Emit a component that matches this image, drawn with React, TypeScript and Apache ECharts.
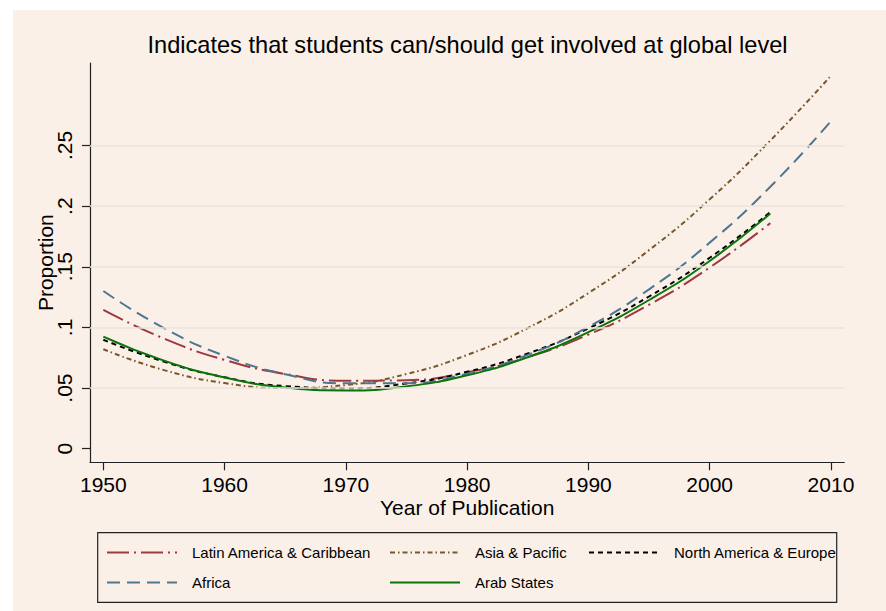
import React, { useEffect, useRef } from "react";
import * as echarts from "echarts";

const yearsLong = [1950, 1955, 1960, 1965, 1970, 1975, 1980, 1985, 1990, 1995, 2000, 2005, 2010];
const yearsShort = [1950, 1955, 1960, 1965, 1970, 1975, 1980, 1985, 1990, 1995, 2000, 2005];

const latinAmerica = [0.1144, 0.0908, 0.0732, 0.0616, 0.056, 0.0565, 0.063, 0.0756, 0.0941, 0.1187, 0.1494, 0.186];
const asiaPacific = [0.082, 0.0648, 0.0541, 0.05, 0.0525, 0.0616, 0.0773, 0.0995, 0.1283, 0.1637, 0.2056, 0.2541, 0.3075];
const northAmericaEurope = [0.0898, 0.0718, 0.0589, 0.0516, 0.0499, 0.0538, 0.0634, 0.0785, 0.0992, 0.1255, 0.1574, 0.195];
const africa = [0.13, 0.0994, 0.0766, 0.0614, 0.0539, 0.054, 0.0619, 0.0774, 0.1005, 0.1314, 0.1699, 0.216, 0.27];
const arabStates = [0.0924, 0.0726, 0.0587, 0.0505, 0.048, 0.0514, 0.0605, 0.0754, 0.0961, 0.1226, 0.1548, 0.194];

const xTicks = [1950, 1960, 1970, 1980, 1990, 2000, 2010];
const yTicks = [0, 0.05, 0.1, 0.15, 0.2, 0.25];
const yGridTicks = [0.05, 0.1, 0.15, 0.2, 0.25];

const FONT = "'Liberation Sans', Arial, Helvetica, sans-serif";

const pair = (xs: number[], ys: number[]) => ys.map((v, i) => [xs[i], v]);

export default function App() {
  const ref = useRef<HTMLDivElement>(null);

  useEffect(() => {
    if (!ref.current) return;
    const chart = echarts.init(ref.current, undefined, { renderer: "svg" });

    const seriesDefs = [
      { name: "Latin America & Caribbean", xs: yearsShort, ys: latinAmerica, color: "#A0383D", dash: [22, 5, 2, 5] },
      { name: "Asia & Pacific", xs: yearsLong, ys: asiaPacific, color: "#76592A", dash: [5, 3, 1.5, 3] },
      { name: "North America & Europe", xs: yearsShort, ys: northAmericaEurope, color: "#000000", dash: [5, 4] },
      { name: "Africa", xs: yearsLong, ys: africa, color: "#4E7691", dash: [13, 7] },
      { name: "Arab States", xs: yearsShort, ys: arabStates, color: "#0A730A", dash: "solid" as any },
    ];

    const legendPos = [
      { left: 106, top: 545 },
      { left: 389, top: 545 },
      { left: 588, top: 545 },
      { left: 106, top: 575 },
      { left: 389, top: 575 },
    ];

    const option: any = {
      animation: false,
      backgroundColor: "transparent",
      title: {
        text: "Indicates that students can/should get involved at global level",
        left: 467.5,
        top: 32.5,
        padding: 0,
        textAlign: "center",
        textStyle: { fontSize: 23.6, fontWeight: "normal", color: "#000", fontFamily: FONT },
      },
      grid: { left: 90, right: 41.7, top: 63, bottom: 148.7, containLabel: false },
      xAxis: {
        type: "value",
        min: 1948.9,
        max: 2011.1,
        name: "Year of Publication",
        nameLocation: "middle",
        nameGap: 35,
        nameMoveOverlap: false,
        nameTextStyle: { fontSize: 21, color: "#000", fontFamily: FONT },
        axisLine: { show: true, onZero: false, lineStyle: { color: "#222", width: 1.2 } },
        axisTick: { show: true, length: 8, customValues: xTicks, lineStyle: { color: "#222", width: 1.2 } },
        axisLabel: {
          customValues: xTicks,
          formatter: (v: number) => String(v),
          fontSize: 21,
          color: "#000",
          fontFamily: FONT,
          margin: 12,
        },
        splitLine: { show: false },
      },
      yAxis: {
        type: "value",
        min: -0.0112,
        max: 0.318,
        name: "Proportion",
        nameLocation: "middle",
        nameGap: 34,
        nameMoveOverlap: false,
        nameTextStyle: { fontSize: 21, color: "#000", fontFamily: FONT },
        axisLine: { show: true, onZero: false, lineStyle: { color: "#222", width: 1.2 } },
        axisTick: { show: true, length: 8, customValues: yTicks, lineStyle: { color: "#222", width: 1.2 } },
        axisLabel: {
          customValues: yTicks,
          rotate: 90,
          formatter: (v: number) => (v === 0 ? "0" : String(Math.round(v * 100) / 100).replace(/^0/, "")),
          fontSize: 21,
          color: "#000",
          fontFamily: FONT,
          margin: 15,
        },
        splitLine: { show: false },
      },
      legend: seriesDefs.map((s, i) => ({
        data: [s.name],
        left: legendPos[i].left,
        top: legendPos[i].top,
        padding: 0,
        itemWidth: 70,
        itemHeight: 14,
        selectedMode: false,
        textStyle: { fontSize: 15, color: "#000", fontFamily: FONT, padding: [0, 0, 0, 10] },
        itemStyle: { opacity: 0 },
      })),
      graphic: [
        {
          type: "rect",
          shape: { x: 97.7, y: 532.7, width: 739, height: 69.6 },
          style: { fill: "none", stroke: "#222", lineWidth: 1.2 },
          silent: true,
        },
      ],
      series: [
        {
          name: "__grid",
          type: "line",
          data: [],
          z: 1,
          silent: true,
          markLine: {
            silent: true,
            symbol: ["none", "none"],
            label: { show: false },
            lineStyle: { color: "#E9E4DD", width: 1.5, type: "solid" },
            data: yGridTicks.map((v) => ({ yAxis: v })),
          },
        },
        ...seriesDefs.map((s) => ({
          name: s.name,
          type: "line",
          data: pair(s.xs, s.ys),
          smooth: true,
          symbol: "none",
          showSymbol: false,
          lineStyle: { color: s.color, width: 2, type: s.dash },
          itemStyle: { color: s.color },
          z: 3,
        })),
      ],
    };

    chart.setOption(option);
    return () => chart.dispose();
  }, []);

  return (
    <div style={{ position: "fixed", left: 0, top: 0, width: 886, height: 611, background: "#ffffff" }}>
      <div style={{ position: "absolute", left: 13, top: 10, width: 873, height: 601, background: "#FBF0E8" }} />
      <div ref={ref} style={{ position: "absolute", left: 0, top: 0, width: 886, height: 611 }} />
    </div>
  );
}
